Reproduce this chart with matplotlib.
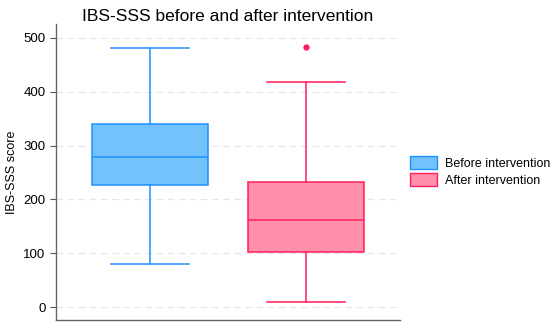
import matplotlib.pyplot as plt
from matplotlib.patches import Patch

plt.rcParams['font.family'] = ['Liberation Sans', 'DejaVu Sans']

# values
groups = ['Before intervention', 'After intervention']
whislo = [80, 10]
q1 = [226, 103]
med = [279, 162]
q3 = [340, 233]
whishi = [482, 418]
fliers = [[], [483]]

face_colors = ['#73c2fb', '#ff8fab']
edge_colors = ['#1e90ff', '#ff1f5b']

stats = []
for i, g in enumerate(groups):
    stats.append({'label': g, 'whislo': whislo[i], 'q1': q1[i], 'med': med[i],
                  'q3': q3[i], 'whishi': whishi[i], 'fliers': fliers[i]})

fig = plt.figure(figsize=(5.5, 3.25), dpi=100)
ax = fig.add_axes([0.102, 0.015, 0.625, 0.91])

for i in range(len(groups)):
    ax.bxp([stats[i]], positions=[i], widths=0.745, patch_artist=True,
           showfliers=True, capwidths=0.5,
           boxprops=dict(facecolor=face_colors[i], edgecolor=edge_colors[i], linewidth=1.1),
           medianprops=dict(color=edge_colors[i], linewidth=1.1),
           whiskerprops=dict(color=edge_colors[i], linewidth=1.1),
           capprops=dict(color=edge_colors[i], linewidth=1.1),
           flierprops=dict(marker='o', markerfacecolor=edge_colors[i],
                           markeredgecolor=edge_colors[i], markersize=3.5))

ax.set_xlim(-0.6, 1.6)
ax.set_ylim(-24, 525)
ax.set_xticks([])
ax.set_yticks([0, 100, 200, 300, 400, 500])
ax.tick_params(axis='y', labelsize=9.5, length=4, color='#555555')
ax.grid(axis='y', linestyle=(0, (6, 4)), color='#e6e6e6', linewidth=0.8)
ax.set_axisbelow(True)
for s in ['top', 'right']:
    ax.spines[s].set_visible(False)
for s in ['left', 'bottom']:
    ax.spines[s].set_color('#666666')
    ax.spines[s].set_linewidth(1.0)

ax.set_ylabel('IBS-SSS score', fontsize=9)
ax.set_title('IBS-SSS before and after intervention', fontsize=12.5, pad=1)

handles = [Patch(facecolor=face_colors[i], edgecolor=edge_colors[i], label=groups[i])
           for i in range(len(groups))]
fig.legend(handles=handles, loc='center left', bbox_to_anchor=(0.731, 0.472),
           frameon=False, fontsize=9, handlelength=2.2, handleheight=1.2,
           labelspacing=0.3, handletextpad=0.6, borderaxespad=0.2)

fig.savefig('out.png', dpi=100)
